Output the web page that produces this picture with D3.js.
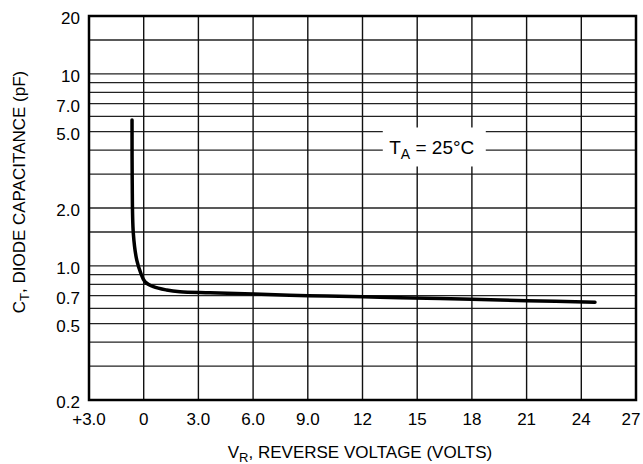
<!DOCTYPE html>
<html>
<head>
<meta charset="utf-8">
<script src="https://cdn.jsdelivr.net/npm/d3@7"></script>
<style>
body { margin: 0; background: #fff; }
text { font-family: "Liberation Sans Narrow", "Arial Narrow", "Liberation Sans", Arial, sans-serif; fill: #000; }
</style>
</head>
<body>
<svg width="643" height="464"></svg>
<script>
// curve
var vrVolts = [-0.64, -0.63, -0.57, -0.38, -0.16, 0.07, 0.53, 1.26, 1.99, 3.64, 6.01, 9.03, 12.04, 14.06, 17.99, 21.0, 24.75];
var ctPf = [5.75, 2.80, 1.48, 1.07, 0.917, 0.826, 0.778, 0.748, 0.733, 0.724, 0.713, 0.699, 0.690, 0.682, 0.669, 0.658, 0.646];

var xTicks = [-3, 0, 3, 6, 9, 12, 15, 18, 21, 24, 27];
var xTickLabels = ['+3.0', '0', '3.0', '6.0', '9.0', '12', '15', '18', '21', '24', '27'];
var yGrid = [0.3, 0.4, 0.5, 0.6, 0.7, 0.8, 0.9, 1, 1.5, 2, 3, 4, 5, 6, 7, 8, 9, 10, 15];
var yTicks = [0.2, 0.5, 0.7, 1, 2, 5, 7, 10, 20];
var yTickLabels = ['0.2', '0.5', '0.7', '1.0', '2.0', '5.0', '7.0', '10', '20'];

var note = {x: 15.8, y: 3.8};

var svg = d3.select('svg');
var x = d3.scaleLinear().domain([-3, 27]).range([89, 636]);
var y = d3.scaleLog().domain([0.2, 20]).range([400, 16]);

// grid
svg.append('g')
    .selectAll('line')
    .data(yGrid)
    .enter()
    .append('line')
    .attr('x1', x(-3)).attr('x2', x(27))
    .attr('y1', function(d) {return y(d);})
    .attr('y2', function(d) {return y(d);})
    .style('stroke', '#222')
    .style('stroke-width', 1.3);

svg.append('g')
    .selectAll('line')
    .data(xTicks.slice(1, -1))
    .enter()
    .append('line')
    .attr('y1', y(0.2)).attr('y2', y(20))
    .attr('x1', function(d) {return x(d);})
    .attr('x2', function(d) {return x(d);})
    .style('stroke', '#111')
    .style('stroke-width', 1.4);

// label box sits over the grid
var noteG = svg.append('g')
    .attr('transform', 'translate(' + x(note.x) + ',' + y(note.y) + ')');
noteG.append('rect')
    .attr('x', -49).attr('y', -27)
    .attr('width', 103).attr('height', 39)
    .style('fill', '#fff');
var nt = noteG.append('text')
    .attr('text-anchor', 'middle')
    .style('font-size', '19px');
nt.append('tspan').text('T');
nt.append('tspan').attr('dy', 5).style('font-size', '14px').text('A');
nt.append('tspan').attr('dy', -5).text(' = 25\u00B0C');

// curve
var line = d3.line()
    .x(function(d, i) {return x(vrVolts[i]);})
    .y(function(d, i) {return y(ctPf[i]);})
    .curve(d3.curveCatmullRom.alpha(0.5));
svg.append('path')
    .attr('d', line(vrVolts))
    .style('fill', 'none')
    .style('stroke', '#000')
    .style('stroke-width', 3.5)
    .style('stroke-linecap', 'round');

// frame
svg.append('rect')
    .attr('x', x(-3)).attr('y', y(20))
    .attr('width', x(27) - x(-3))
    .attr('height', y(0.2) - y(20))
    .style('fill', 'none')
    .style('stroke', '#000')
    .style('stroke-width', 2.5);

// tick labels (last one pulled in so it stays on the page)
svg.append('g')
    .selectAll('text')
    .data(xTicks)
    .enter()
    .append('text')
    .attr('x', function(d) {return Math.min(x(d), 631);})
    .attr('y', 425)
    .attr('text-anchor', 'middle')
    .style('font-size', '17px')
    .text(function(d, i) {return xTickLabels[i];});

svg.append('g')
    .selectAll('text')
    .data(yTicks)
    .enter()
    .append('text')
    .attr('x', 80)
    .attr('y', function(d) {return y(d) + 8;})
    .attr('text-anchor', 'end')
    .style('font-size', '17px')
    .text(function(d, i) {return yTickLabels[i];});

// axis titles
var xt = svg.append('text')
    .attr('x', 360).attr('y', 458)
    .attr('text-anchor', 'middle')
    .style('font-size', '17px');
xt.append('tspan').text('V');
xt.append('tspan').attr('dy', 4).style('font-size', '13px').text('R');
xt.append('tspan').attr('dy', -4).text(', REVERSE VOLTAGE (VOLTS)');

var yt = svg.append('text')
    .attr('transform', 'translate(25,192) rotate(-90)')
    .attr('text-anchor', 'middle')
    .style('font-size', '17px');
yt.append('tspan').text('C');
yt.append('tspan').attr('dy', 4).style('font-size', '13px').text('T');
yt.append('tspan').attr('dy', -4).text(', DIODE CAPACITANCE (pF)');
</script>
</body>
</html>
